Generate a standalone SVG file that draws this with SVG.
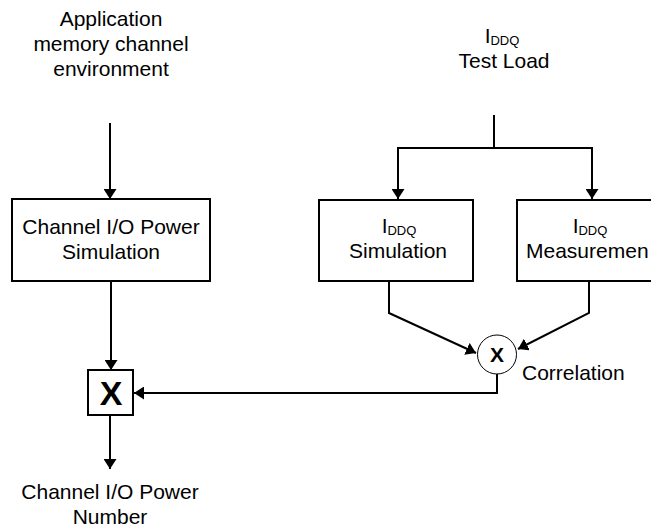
<svg xmlns="http://www.w3.org/2000/svg" width="651" height="531" viewBox="0 0 651 531">
  <style>
    .t { font-family: "Liberation Sans", Arial, sans-serif; font-size: 21px; fill: #000; }
    .c { text-anchor: middle; }
    .sub { font-size: 13px; }
    .bx { fill: #fff; stroke: #000; stroke-width: 2; }
    .ln { fill: none; stroke: #000; stroke-width: 2; }
    .x { font-family: "Liberation Sans", Arial, sans-serif; font-weight: bold; text-anchor: middle; fill: #000; }
  </style>
  <defs>
    <marker id="ah" viewBox="0 0 10 13" refX="10" refY="6.5" markerWidth="10" markerHeight="13" markerUnits="userSpaceOnUse" orient="auto">
      <path d="M0,0 L10,6.5 L0,13 z" fill="#000"/>
    </marker>
  </defs>
  <rect width="651" height="531" fill="#fff"/>

  <g id="connectors">
    <path class="ln" d="M110,123 V199" marker-end="url(#ah)"/>
    <path class="ln" d="M111,281 V370" marker-end="url(#ah)"/>
    <path class="ln" d="M494,115 V148"/>
    <path class="ln" d="M494,148 H398 V199" marker-end="url(#ah)"/>
    <path class="ln" d="M494,148 H592 V199" marker-end="url(#ah)"/>
    <path class="ln" d="M389,281 V313 L476,353" marker-end="url(#ah)"/>
    <path class="ln" d="M589,281 V313 L518,349" marker-end="url(#ah)"/>
    <path class="ln" d="M497,374 V393 H134" marker-end="url(#ah)"/>
    <path class="ln" d="M110,415 V469" marker-end="url(#ah)"/>
  </g>

  <g id="app-env">
    <text class="t c" x="111" y="26">Application</text>
    <text class="t c" x="111" y="51">memory channel</text>
    <text class="t c" x="111" y="76">environment</text>
  </g>

  <g id="iddq-test-load">
    <text class="t c" x="502" y="43">I<tspan class="sub" dy="2">DDQ</tspan></text>
    <text class="t c" x="504" y="68">Test Load</text>
  </g>

  <g id="channel-sim">
    <rect class="bx" x="12" y="199" width="198" height="82"/>
    <text class="t c" x="111" y="234">Channel I/O Power</text>
    <text class="t c" x="111" y="259">Simulation</text>
  </g>

  <g id="iddq-sim">
    <rect class="bx" x="319" y="200" width="154" height="81"/>
    <text class="t c" x="399" y="233">I<tspan class="sub" dy="2">DDQ</tspan></text>
    <text class="t c" x="398" y="258">Simulation</text>
  </g>

  <g id="iddq-meas">
    <path class="ln" d="M651,200 H517 V281 H651"/>
    <text class="t c" x="590" y="233">I<tspan class="sub" dy="2">DDQ</tspan></text>
    <text class="t" x="526" y="258">Measuremen</text>
  </g>

  <g id="correlation">
    <circle cx="497" cy="354.5" r="19.5" fill="#fff" stroke="#000" stroke-width="1"/>
    <text class="x" x="497" y="362" font-size="21">X</text>
    <text class="t" x="522" y="380">Correlation</text>
  </g>

  <g id="multiplier">
    <rect class="bx" x="88" y="370" width="45" height="45"/>
    <text class="x" x="111" y="405" font-size="34">X</text>
  </g>

  <g id="output">
    <text class="t c" x="110" y="499">Channel I/O Power</text>
    <text class="t c" x="110" y="524">Number</text>
  </g>
</svg>
